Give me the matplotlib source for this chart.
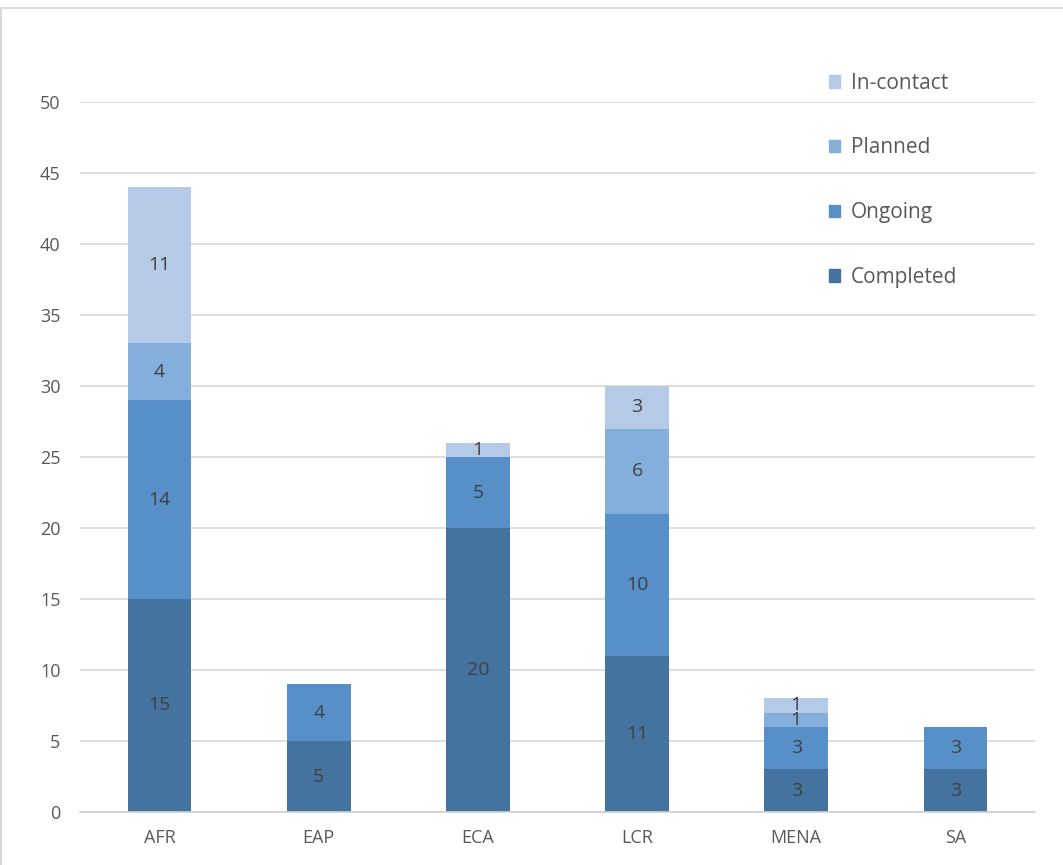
import matplotlib.pyplot as plt
import matplotlib.patches as mpatches
import numpy as np

regions = ['AFR', 'EAP', 'ECA', 'LCR', 'MENA', 'SA']
completed = [15, 5, 20, 11, 3, 3]
ongoing = [14, 4, 5, 10, 3, 3]
planned = [4, 0, 0, 6, 1, 0]
in_contact = [11, 0, 1, 3, 1, 0]

series = [('Completed', completed, '#44739f'),
          ('Ongoing', ongoing, '#5790c8'),
          ('Planned', planned, '#84aedb'),
          ('In-contact', in_contact, '#b5cae7')]

plt.rcParams['font.family'] = ['Open Sans', 'DejaVu Sans']

fig = plt.figure(figsize=(10.63, 8.65), dpi=100)
ax = fig.add_axes([80/1063, 1-812/865, (1035-80)/1063, (812-102)/865])

x = np.arange(len(regions))
bottom = np.zeros(len(regions))
handles = []
for name, vals, col in series:
    vals = np.array(vals)
    ax.bar(x, vals, 0.4, bottom=bottom, color=col, zorder=2)
    for xi, b, v in zip(x, bottom, vals):
        if v > 0:
            ax.text(xi, b + v/2, str(v), ha='center', va='center',
                    fontsize=14, color='#404040', zorder=3)
    bottom += vals
    handles.append(mpatches.Patch(color=col, label=name))

ax.set_xlim(-0.5, 5.5)
ax.set_ylim(0, 50)
ax.set_yticks(range(0, 51, 5))
ax.set_xticks(x)
ax.set_xticklabels(regions)
ax.yaxis.grid(True, color='#d9d9d9', linewidth=1.2, zorder=0)
ax.set_axisbelow(True)
for s in ['top', 'right', 'left']:
    ax.spines[s].set_visible(False)
ax.spines['bottom'].set_color('#d0d0d0')
ax.spines['bottom'].set_linewidth(1.2)
ax.tick_params(axis='both', length=0, labelsize=13, colors='#595959')
ax.tick_params(axis='y', pad=14)
ax.tick_params(axis='x', pad=12)

leg = fig.legend(handles=handles[::-1], loc='upper left',
                 bbox_to_anchor=(810/1063, 1-54/865), frameon=False,
                 fontsize=15, labelcolor='#595959', handlelength=0.55,
                 handleheight=0.55, handletextpad=0.5, labelspacing=2.1)

# outer chart border
fig.patches.append(mpatches.Rectangle((1/1063, -0.01), 1.1, 1-8/865+0.01,
                                      transform=fig.transFigure, fill=False,
                                      edgecolor='#d9d9d9', linewidth=1.5))

fig.savefig('out.png', dpi=100)
